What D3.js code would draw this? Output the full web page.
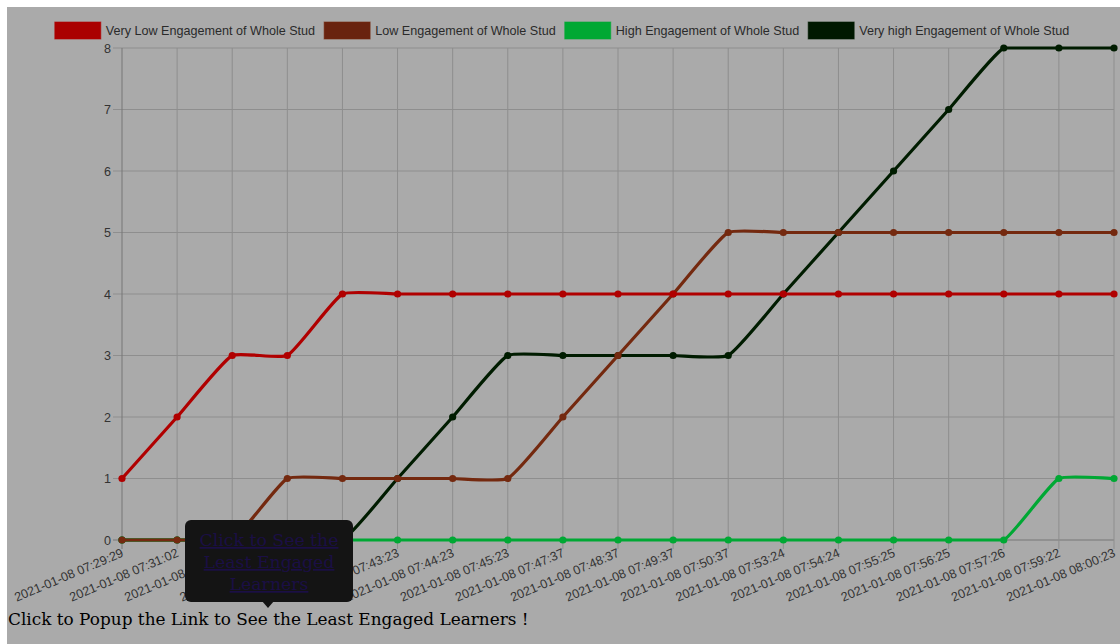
<!DOCTYPE html>
<html>
<head>
<meta charset="utf-8">
<script src="https://cdn.jsdelivr.net/npm/d3@7"></script>
<style>
    html, body { margin: 0; padding: 0; background: #fff; }
    svg { display: block; }
</style>
</head>
<body>
<svg id="chart" width="1120" height="644"></svg>
<script>
const labels = [
    '2021-01-08 07:29:29',
    '2021-01-08 07:31:02',
    '2021-01-08 07:35:16',
    '2021-01-08 07:39:51',
    '2021-01-08 07:42:23',
    '2021-01-08 07:43:23',
    '2021-01-08 07:44:23',
    '2021-01-08 07:45:23',
    '2021-01-08 07:47:37',
    '2021-01-08 07:48:37',
    '2021-01-08 07:49:37',
    '2021-01-08 07:50:37',
    '2021-01-08 07:53:24',
    '2021-01-08 07:54:24',
    '2021-01-08 07:55:25',
    '2021-01-08 07:56:25',
    '2021-01-08 07:57:26',
    '2021-01-08 07:59:22',
    '2021-01-08 08:00:23',
];

const veryLow = [1, 2, 3, 3, 4, 4, 4, 4, 4, 4, 4, 4, 4, 4, 4, 4, 4, 4, 4];
const low = [0, 0, 0, 1, 1, 1, 1, 1, 2, 3, 4, 5, 5, 5, 5, 5, 5, 5, 5];
const high = [0, 0, 0, 0, 0, 0, 0, 0, 0, 0, 0, 0, 0, 0, 0, 0, 0, 1, 1];
const veryHigh = [0, 0, 0, 0, 0, 1, 2, 3, 3, 3, 3, 3, 4, 5, 6, 7, 8, 8, 8];

const seriesNames = [
    'Very Low Engagement of Whole Stud',
    'Low Engagement of Whole Stud',
    'High Engagement of Whole Stud',
    'Very high Engagement of Whole Stud',
];
const seriesValues = [veryLow, low, high, veryHigh];
const lineColors = ['#b00000', '#74290f', '#00a834', '#001c00'];
const boxColors = ['#aa0000', '#69230f', '#00a833', '#001800'];

const yTicks = [0, 1, 2, 3, 4, 5, 6, 7, 8];

const tipLines = ['Click to See the', 'Least Engaged', 'Learners'];
const footText = 'Click to Popup the Link to See the Least Engaged Learners !';

const svg = d3.select('#chart');
const area = { left: 122, right: 1114, top: 48, bottom: 540 };
const sans = 'Liberation Sans, Arial, sans-serif';
const fontSize = 12.6;

// page background (dimmed)
svg.append('rect').attr('x', 7).attr('y', 7).attr('width', 1113).attr('height', 637).attr('fill', '#aaaaaa');

const x = d3.scalePoint().domain(labels).range([area.left, area.right]);
const y = d3.scaleLinear().domain([0, 8]).range([area.bottom, area.top]);

// grid
const grid = svg.append('g');
grid.selectAll('line.h').data(yTicks).join('line')
    .attr('x1', area.left - 9).attr('x2', area.right)
    .attr('y1', (d) => y(d)).attr('y2', (d) => y(d))
    .attr('stroke', (d) => (d === 0 ? '#777' : '#8e8e8e')).attr('stroke-width', 1);
grid.selectAll('line.v').data(labels).join('line')
    .attr('x1', (d) => x(d)).attr('x2', (d) => x(d))
    .attr('y1', area.top).attr('y2', area.bottom + 9)
    .attr('stroke', (d, i) => (i === 0 ? '#777' : '#8e8e8e')).attr('stroke-width', 1);

// y axis labels
const yAxis = svg.append('g')
    .attr('transform', `translate(${area.left - 9},0)`)
    .call(d3.axisLeft(y).tickValues(yTicks).tickSize(0).tickPadding(2).tickFormat(d3.format('d')));
yAxis.select('.domain').remove();
yAxis.selectAll('text')
    .attr('font-family', sans)
    .attr('font-size', fontSize).attr('fill', '#333');

// x axis labels (rotated)
svg.append('g').selectAll('text').data(labels).join('text')
    .attr('transform', (d) => `translate(${x(d) + 1},${area.bottom + 13}) rotate(-23)`)
    .attr('text-anchor', 'end')
    .attr('dominant-baseline', 'middle')
    .attr('font-family', sans)
    .attr('font-size', fontSize).attr('fill', '#333')
    .text((d) => d);

// Chart.js style spline, control points capped to chart area
function splinePath(pts) {
    const t = 0.15;
    const cap = (v, lo, hi) => Math.max(Math.min(v, hi), lo);
    const cps = pts.map((p, i) => {
        const prev = pts[i - 1] || p;
        const next = pts[i + 1] || p;
        const d01 = Math.hypot(p[0] - prev[0], p[1] - prev[1]);
        const d12 = Math.hypot(next[0] - p[0], next[1] - p[1]);
        let s01 = d01 / (d01 + d12);
        let s12 = d12 / (d01 + d12);
        if (isNaN(s01)) s01 = 0;
        if (isNaN(s12)) s12 = 0;
        const fa = t * s01;
        const fb = t * s12;
        return {
            px: cap(p[0] - fa * (next[0] - prev[0]), area.left, area.right),
            py: cap(p[1] - fa * (next[1] - prev[1]), area.top, area.bottom),
            nx: cap(p[0] + fb * (next[0] - prev[0]), area.left, area.right),
            ny: cap(p[1] + fb * (next[1] - prev[1]), area.top, area.bottom),
        };
    });
    let d = `M${pts[0][0]},${pts[0][1]}`;
    for (let i = 1; i < pts.length; i++) {
        d += `C${cps[i - 1].nx},${cps[i - 1].ny} ${cps[i].px},${cps[i].py} ${pts[i][0]},${pts[i][1]}`;
    }
    return d;
}

// draw datasets in reverse so the first one ends up on top
const lines = svg.append('g');
for (let s = seriesValues.length - 1; s >= 0; s--) {
    const pts = seriesValues[s].map((v, i) => [x(labels[i]), y(v)]);
    const g = lines.append('g');
    g.append('path')
        .attr('d', splinePath(pts))
        .attr('fill', 'none')
        .attr('stroke', lineColors[s])
        .attr('stroke-width', 3.2);
    g.selectAll('circle').data(pts).join('circle')
        .attr('cx', (d) => d[0]).attr('cy', (d) => d[1]).attr('r', 3.6)
        .attr('fill', lineColors[s]);
}

// legend
const legend = svg.append('g');
const items = legend.selectAll('g').data(seriesNames).join('g');
items.append('rect')
    .attr('width', 46).attr('height', 17)
    .attr('fill', (d, i) => boxColors[i])
    .attr('stroke', (d, i) => lineColors[i]).attr('stroke-opacity', 0.6);
items.append('text')
    .attr('x', 51).attr('y', 13)
    .attr('font-family', sans)
    .attr('font-size', fontSize).attr('fill', '#2a2a2a')
    .text((d) => d);
const widths = [];
items.each(function () {
    widths.push(51 + d3.select(this).select('text').node().getComputedTextLength());
});
const gap = 9;
const total = d3.sum(widths) + gap * (widths.length - 1);
let cursor = 562 - total / 2;
items.attr('transform', (d, i) => {
    const pos = cursor;
    cursor += widths[i] + gap;
    return `translate(${pos},22)`;
});

// popup tooltip
const tip = svg.append('g');
tip.append('rect')
    .attr('x', 185).attr('y', 520).attr('width', 168).attr('height', 82).attr('rx', 6)
    .attr('fill', '#141414');
tip.append('path')
    .attr('d', 'M262,601L268,608L274,601Z')
    .attr('fill', '#141414');
tip.selectAll('text').data(tipLines).join('text')
    .attr('x', 269).attr('y', (d, i) => 546 + i * 22)
    .attr('text-anchor', 'middle')
    .attr('font-family', 'DejaVu Serif, serif')
    .attr('font-size', 17.3)
    .attr('fill', '#1b0f45')
    .attr('text-decoration', 'underline')
    .text((d) => d);

// footer text
svg.append('text')
    .attr('x', 8).attr('y', 625)
    .attr('font-family', 'DejaVu Serif, serif')
    .attr('font-size', 16.9)
    .attr('fill', '#000')
    .text(footText);
</script>
</body>
</html>
